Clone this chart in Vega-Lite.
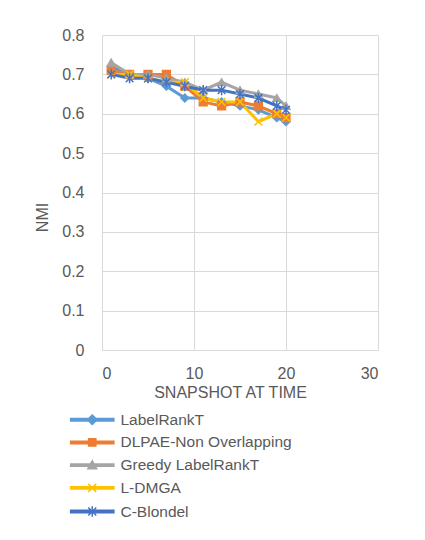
{
  "$schema": "https://vega.github.io/schema/vega-lite/v6.json",
  "autosize": {"type": "none"},
  "width": 276,
  "height": 315,
  "padding": {"left": 102, "top": 35, "right": 47, "bottom": 190},
  "background": "white",
  "config": {
    "font": "Liberation Sans",
    "view": {"stroke": null},
    "axis": {"labelColor": "#595959", "titleColor": "#595959", "labelFontSize": 16, "titleFontSize": 16, "titleFontWeight": "normal", "gridColor": "#d9d9d9", "gridWidth": 1, "domain": false, "ticks": false}
  },
  "data": {"values": [
    {"t": 1, "series": "LabelRankT", "nmi": 0.72}, {"t": 3, "series": "LabelRankT", "nmi": 0.70}, {"t": 5, "series": "LabelRankT", "nmi": 0.69}, {"t": 7, "series": "LabelRankT", "nmi": 0.67}, {"t": 9, "series": "LabelRankT", "nmi": 0.64}, {"t": 11, "series": "LabelRankT", "nmi": 0.64}, {"t": 13, "series": "LabelRankT", "nmi": 0.63}, {"t": 15, "series": "LabelRankT", "nmi": 0.62}, {"t": 17, "series": "LabelRankT", "nmi": 0.61}, {"t": 19, "series": "LabelRankT", "nmi": 0.59}, {"t": 20, "series": "LabelRankT", "nmi": 0.58},
    {"t": 1, "series": "DLPAE-Non Overlapping", "nmi": 0.71}, {"t": 3, "series": "DLPAE-Non Overlapping", "nmi": 0.70}, {"t": 5, "series": "DLPAE-Non Overlapping", "nmi": 0.70}, {"t": 7, "series": "DLPAE-Non Overlapping", "nmi": 0.70}, {"t": 9, "series": "DLPAE-Non Overlapping", "nmi": 0.67}, {"t": 11, "series": "DLPAE-Non Overlapping", "nmi": 0.63}, {"t": 13, "series": "DLPAE-Non Overlapping", "nmi": 0.62}, {"t": 15, "series": "DLPAE-Non Overlapping", "nmi": 0.63}, {"t": 17, "series": "DLPAE-Non Overlapping", "nmi": 0.62}, {"t": 19, "series": "DLPAE-Non Overlapping", "nmi": 0.60}, {"t": 20, "series": "DLPAE-Non Overlapping", "nmi": 0.59},
    {"t": 1, "series": "Greedy LabelRankT", "nmi": 0.73}, {"t": 3, "series": "Greedy LabelRankT", "nmi": 0.70}, {"t": 5, "series": "Greedy LabelRankT", "nmi": 0.70}, {"t": 7, "series": "Greedy LabelRankT", "nmi": 0.69}, {"t": 9, "series": "Greedy LabelRankT", "nmi": 0.68}, {"t": 11, "series": "Greedy LabelRankT", "nmi": 0.66}, {"t": 13, "series": "Greedy LabelRankT", "nmi": 0.68}, {"t": 15, "series": "Greedy LabelRankT", "nmi": 0.66}, {"t": 17, "series": "Greedy LabelRankT", "nmi": 0.65}, {"t": 19, "series": "Greedy LabelRankT", "nmi": 0.64}, {"t": 20, "series": "Greedy LabelRankT", "nmi": 0.62},
    {"t": 1, "series": "L-DMGA", "nmi": 0.70}, {"t": 3, "series": "L-DMGA", "nmi": 0.70}, {"t": 5, "series": "L-DMGA", "nmi": 0.69}, {"t": 7, "series": "L-DMGA", "nmi": 0.68}, {"t": 9, "series": "L-DMGA", "nmi": 0.68}, {"t": 11, "series": "L-DMGA", "nmi": 0.64}, {"t": 13, "series": "L-DMGA", "nmi": 0.63}, {"t": 15, "series": "L-DMGA", "nmi": 0.63}, {"t": 17, "series": "L-DMGA", "nmi": 0.58}, {"t": 19, "series": "L-DMGA", "nmi": 0.60}, {"t": 20, "series": "L-DMGA", "nmi": 0.59},
    {"t": 1, "series": "C-Blondel", "nmi": 0.70}, {"t": 3, "series": "C-Blondel", "nmi": 0.69}, {"t": 5, "series": "C-Blondel", "nmi": 0.69}, {"t": 7, "series": "C-Blondel", "nmi": 0.68}, {"t": 9, "series": "C-Blondel", "nmi": 0.67}, {"t": 11, "series": "C-Blondel", "nmi": 0.66}, {"t": 13, "series": "C-Blondel", "nmi": 0.66}, {"t": 15, "series": "C-Blondel", "nmi": 0.65}, {"t": 17, "series": "C-Blondel", "nmi": 0.64}, {"t": 19, "series": "C-Blondel", "nmi": 0.62}, {"t": 20, "series": "C-Blondel", "nmi": 0.61}
  ]},
  "encoding": {
    "x": {"field": "t", "type": "quantitative", "scale": {"domain": [0, 30]}, "axis": {"values": [0, 10, 20, 30], "title": "SNAPSHOT AT TIME", "labelPadding": 15, "titleX": 128, "titleY": 42, "titleBaseline": "middle", "titleAlign": "center"}},
    "y": {"field": "nmi", "type": "quantitative", "scale": {"domain": [0, 0.8]}, "axis": {"values": [0, 0.1, 0.2, 0.3, 0.4, 0.5, 0.6, 0.7, 0.8], "format": "~g", "title": "NMI", "labelPadding": 18, "titleX": -60, "titleY": 182, "titleAngle": 270, "titleAlign": "center", "titleBaseline": "middle"}}
  },
  "layer": [
    {
      "mark": {"type": "line", "strokeWidth": 3},
      "encoding": {
        "color": {"field": "series", "type": "nominal", "sort": null,
          "scale": {"domain": ["LabelRankT", "DLPAE-Non Overlapping", "Greedy LabelRankT", "L-DMGA", "C-Blondel"], "range": ["#5B9BD5", "#ED7D31", "#A5A5A5", "#FFC000", "#4472C4"]},
          "legend": null}
      }
    },
    {
      "mark": {"type": "point", "filled": true, "size": 60, "strokeWidth": 1.5, "opacity": 1},
      "encoding": {
        "color": {"field": "series", "type": "nominal", "sort": null, "legend": null},
        "shape": {"field": "series", "type": "nominal", "sort": null,
          "scale": {"domain": ["LabelRankT", "DLPAE-Non Overlapping", "Greedy LabelRankT", "L-DMGA", "C-Blondel"], "range": ["diamond", "square", "triangle-up", "M-1,-1L1,1M-1,1L1,-1", "M-1,-1L1,1M-1,1L1,-1M0,-1.3V1.3"]},
          "legend": null},
        "stroke": {"field": "series", "type": "nominal", "sort": null,
          "scale": {"domain": ["LabelRankT", "DLPAE-Non Overlapping", "Greedy LabelRankT", "L-DMGA", "C-Blondel"], "range": ["#5B9BD5", "#ED7D31", "#A5A5A5", "#FFC000", "#4472C4"]},
          "legend": null}
      }
    },
    {
      "mark": {"type": "point", "filled": true, "size": 60, "opacity": 0},
      "encoding": {
        "color": {"field": "series", "type": "nominal", "sort": null,
          "legend": {"orient": "none", "legendX": -17.5, "legendY": 377, "direction": "vertical", "title": null, "padding": 0, "rowPadding": 5.7, "symbolSize": 64, "symbolStrokeWidth": 1.5, "symbolOpacity": 1, "labelFontSize": 15.5, "labelColor": "#595959", "labelOffset": 20.5, "labelLimit": 0, "labelFont": "Liberation Sans",
            "encode": {"symbols": {"update": {"opacity": {"value": 1}, "fillOpacity": {"value": 1}, "strokeOpacity": {"value": 1}, "fill": {"scale": "color", "field": "value"}, "stroke": {"scale": "color", "field": "value"}}}}}},
        "shape": {"field": "series", "type": "nominal", "sort": null,
          "scale": {"domain": ["LabelRankT", "DLPAE-Non Overlapping", "Greedy LabelRankT", "L-DMGA", "C-Blondel"], "range": [
            "M-5.4,-0.3H5.4V0.3H-5.4Z M0,-1.2L1.2,0L0,1.2L-1.2,0Z",
            "M-5.4,-0.3H5.4V0.3H-5.4Z M-0.9,-0.9H0.9V0.9H-0.9Z",
            "M-5.4,-0.3H5.4V0.3H-5.4Z M0,-1.1L1.1,0.9H-1.1Z",
            "M-5.4,-0.3H5.4V0.3H-5.4Z M-1,-1L1,1M-1,1L1,-1",
            "M-5.4,-0.3H5.4V0.3H-5.4Z M-1,-1L1,1M-1,1L1,-1M0,-1.3V1.3"]},
          "legend": {"orient": "none", "legendX": -17.5, "legendY": 377, "direction": "vertical", "title": null, "padding": 0, "rowPadding": 5.7, "symbolSize": 64, "symbolStrokeWidth": 1.5, "symbolOpacity": 1, "labelFontSize": 15.5, "labelColor": "#595959", "labelOffset": 20.5, "labelLimit": 0, "labelFont": "Liberation Sans",
            "encode": {"symbols": {"update": {"opacity": {"value": 1}, "fillOpacity": {"value": 1}, "strokeOpacity": {"value": 1}, "fill": {"scale": "color", "field": "value"}, "stroke": {"scale": "color", "field": "value"}}}}}}
      }
    }
  ],
  "resolve": {"scale": {"shape": "independent"}, "legend": {"color": "independent", "shape": "independent"}}
}
